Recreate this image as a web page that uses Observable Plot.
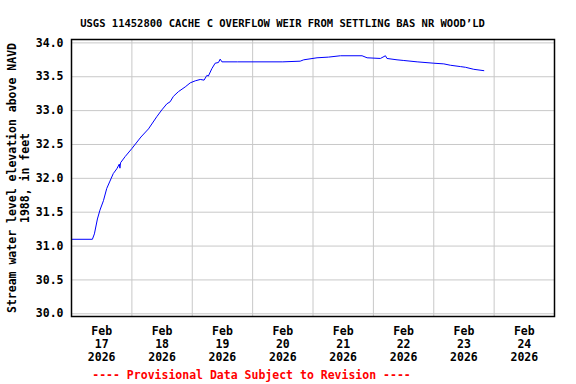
<!DOCTYPE html>
<html>
<head>
<meta charset="utf-8">
<script src="https://cdn.jsdelivr.net/npm/d3@7"></script>
<script src="https://cdn.jsdelivr.net/npm/@observablehq/plot@0.6"></script>
<style>
  html, body { margin: 0; padding: 0; background: #fff; }
  svg { display: block; }
</style>
</head>
<body>
<div id="chart"></div>
<script>
const titleText = "USGS 11452800 CACHE C OVERFLOW WEIR FROM SETTLING BAS NR WOOD\u2019LD";
const yLabelText = "Stream water level elevation above NAVD\n1988, in feet";
const captionText = "---- Provisional Data Subject to Revision ----";

const times = [
  "2026-02-17T00:00Z","2026-02-17T08:18Z","2026-02-17T09:06Z","2026-02-17T10:18Z","2026-02-17T11:18Z",
  "2026-02-17T12:42Z","2026-02-17T14:00Z","2026-02-17T15:18Z","2026-02-17T16:36Z","2026-02-17T18:00Z",
  "2026-02-17T19:00Z","2026-02-17T19:15Z","2026-02-17T19:30Z","2026-02-17T21:18Z","2026-02-18T00:00Z",
  "2026-02-18T03:36Z","2026-02-18T06:36Z","2026-02-18T09:54Z","2026-02-18T11:54Z","2026-02-18T13:54Z",
  "2026-02-18T15:12Z","2026-02-18T16:30Z","2026-02-18T18:30Z","2026-02-18T21:12Z","2026-02-18T23:12Z",
  "2026-02-19T01:12Z","2026-02-19T03:12Z","2026-02-19T04:42Z","2026-02-19T05:48Z","2026-02-19T06:24Z",
  "2026-02-19T07:48Z","2026-02-19T09:06Z","2026-02-19T10:24Z","2026-02-19T11:06Z","2026-02-19T11:48Z",
  "2026-02-19T18:00Z","2026-02-20T12:00Z","2026-02-20T18:54Z","2026-02-20T20:18Z","2026-02-21T01:36Z",
  "2026-02-21T06:12Z","2026-02-21T10:54Z","2026-02-21T19:30Z","2026-02-21T21:30Z","2026-02-22T02:48Z",
  "2026-02-22T04:48Z","2026-02-22T05:24Z","2026-02-22T09:24Z","2026-02-22T12:06Z","2026-02-22T17:24Z",
  "2026-02-23T00:00Z","2026-02-23T04:00Z","2026-02-23T06:36Z","2026-02-23T10:36Z","2026-02-23T12:36Z",
  "2026-02-23T15:54Z","2026-02-23T19:54Z"
];
const levels = [
  31.10, 31.10, 31.18, 31.40, 31.53,
  31.67, 31.85, 31.96, 32.07, 32.14,
  32.21, 32.15, 32.23, 32.32, 32.44,
  32.61, 32.73, 32.91, 33.01, 33.10,
  33.13, 33.21, 33.28, 33.35, 33.41,
  33.44, 33.46, 33.45, 33.52, 33.51,
  33.62, 33.70, 33.71, 33.76, 33.72,
  33.72, 33.72, 33.73, 33.75, 33.78,
  33.79, 33.81, 33.81, 33.78, 33.77,
  33.81, 33.77, 33.75, 33.74, 33.72,
  33.70, 33.69, 33.67, 33.65, 33.64,
  33.61, 33.59
];

const xDomain = ["2026-02-17T00:00Z", "2026-02-25T00:00Z"];
const gridDays = ["2026-02-18T00:00Z","2026-02-19T00:00Z","2026-02-20T00:00Z","2026-02-21T00:00Z",
                  "2026-02-22T00:00Z","2026-02-23T00:00Z","2026-02-24T00:00Z"];
const labelDays = ["2026-02-17T12:00Z","2026-02-18T12:00Z","2026-02-19T12:00Z","2026-02-20T12:00Z",
                   "2026-02-21T12:00Z","2026-02-22T12:00Z","2026-02-23T12:00Z","2026-02-24T12:00Z"];
const yTicks = [30.0, 30.5, 31.0, 31.5, 32.0, 32.5, 33.0, 33.5, 34.0];
const yDomain = [29.96, 34.05];

const data = times.map((t, i) => ({date: new Date(t), value: levels[i]}));
const font = "'DejaVu Sans Mono', 'Liberation Mono', monospace";

const chart = Plot.plot({
  width: 576,
  height: 384,
  marginLeft: 71,
  marginRight: 22,
  marginTop: 39,
  marginBottom: 68,
  style: {fontFamily: font, fontWeight: "bold", fontSize: "11.5px", background: "#fff", color: "#000"},
  x: {type: "utc", domain: xDomain.map(d => new Date(d))},
  y: {domain: yDomain},
  marks: [
    Plot.gridY(yTicks, {stroke: "#c8c8c8", strokeOpacity: 1, strokeWidth: 1}),
    Plot.gridX(gridDays.map(d => new Date(d)), {stroke: "#c8c8c8", strokeOpacity: 1, strokeWidth: 1}),
    Plot.axisY(yTicks, {tickSize: 0, tickPadding: 8, tickFormat: d3.format(".1f"), label: null, fontSize: 11.5}),
    Plot.axisX(labelDays.map(d => new Date(d)), {
      tickSize: 0, tickPadding: 9, label: null, fontSize: 11.5, lineHeight: 1.14,
      tickFormat: d3.utcFormat("%b\n%d\n%Y")
    }),
    Plot.line(data, {x: "date", y: "value", stroke: "#0000ff", strokeWidth: 1}),
    Plot.frame({stroke: "#000", strokeWidth: 1.5}),
    Plot.text([titleText], {frameAnchor: "top-left", dx: 211, dy: -20, textAnchor: "middle", fontSize: 10.5, fill: "#000"}),
    Plot.text([yLabelText], {frameAnchor: "left", dx: -53, rotate: -90, textAnchor: "middle", lineHeight: 1.16, fontSize: 11.5, fill: "#000"}),
    Plot.text([captionText], {frameAnchor: "bottom-left", dx: 180, dy: 62, textAnchor: "middle", fontSize: 11.5, fill: "#ff0000"})
  ]
});
document.getElementById("chart").appendChild(chart);
</script>
</body>
</html>
